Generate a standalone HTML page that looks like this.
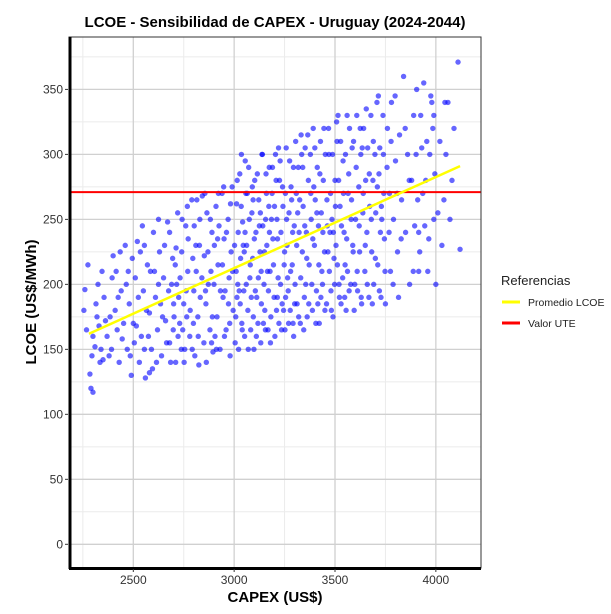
<!DOCTYPE html>
<html><head><meta charset="utf-8">
<style>
html,body{margin:0;padding:0;background:#fff;}
svg{display:block;font-family:"Liberation Sans",Arial,sans-serif;}
</style></head>
<body>
<svg id="chart" width="611" height="614" viewBox="0 0 611 614">
  <text x="275" y="27" text-anchor="middle" font-size="15" font-weight="bold" fill="#000">LCOE - Sensibilidad de CAPEX - Uruguay (2024-2044)</text>
  <g id="grid"></g>
  <g id="points"></g>
  <g id="lines"></g>
  <rect x="69" y="37" width="412" height="531" fill="none" stroke="#333" stroke-width="1"/>
  <line x1="70" y1="37" x2="70" y2="569" stroke="#000" stroke-width="3"/>
  <line x1="69" y1="568.5" x2="481" y2="568.5" stroke="#000" stroke-width="3"/>
  <g id="xticks"></g>
  <g id="yticks"></g>
  <text x="275" y="602" text-anchor="middle" font-size="15" font-weight="bold">CAPEX (US$)</text>
  <text transform="translate(36,302) rotate(-90)" text-anchor="middle" font-size="15" font-weight="bold">LCOE (US$/MWh)</text>
  <g>
    <text x="501" y="285" font-size="13" fill="#222">Referencias</text>
    <g>
      <line x1="502" y1="302" x2="520" y2="302" stroke="#ffff00" stroke-width="3"/>
      <text x="528" y="306" font-size="10.5" fill="#222">Promedio LCOE</text>
    </g>
    <g>
      <line x1="502" y1="323" x2="520" y2="323" stroke="#ff0000" stroke-width="3"/>
      <text x="528" y="327" font-size="10.5" fill="#222">Valor UTE</text>
    </g>
  </g>
</svg>
<script>
const xTickValues=[2500,3000,3500,4000];
const xMinorValues=[2250,2750,3250,3750,4250];
const yTickValues=[0,50,100,150,200,250,300,350];
const yMinorValues=[25,75,125,175,225,275,325,375];
const uteValue=271;
const trendStart=[2280,162];
const trendEnd=[4120,291];
const capex=[2260,2275,2290,2300,2285,2310,2320,2330,2340,2355,2370,2380,2395,2400,2410,2420,2430,2440,2445,2300,2350,2415,2385,2325,
2460,2470,2480,2490,2500,2510,2520,2530,2540,2550,2560,2570,2580,2590,2600,2610,2620,2630,2640,2650,2660,2670,2680,2690,2700,2475,2505,2535,2565,2595,2625,2655,2685,2515,2545,2575,2605,2635,2665,2695,
2710,2715,2720,2730,2740,2750,2755,2760,2770,2780,2790,2800,2805,2810,2820,2830,2840,2850,2855,2860,2870,2880,2890,2895,2900,2910,2915,2920,2930,2940,2945,2950,2960,2970,2975,2980,2990,2995,2725,2765,2795,2825,2865,2885,2905,2925,2955,2985,2745,2815,
3005,3010,3015,3020,3030,3035,3040,3050,3055,3060,3070,3075,3080,3090,3095,3100,3110,3115,3120,3130,3135,3140,3150,3155,3160,3170,3175,3180,3190,3195,3200,3210,3215,3220,3230,3235,3240,3250,3255,3260,3270,3275,3280,3290,3295,3025,3065,3105,3145,3185,3225,3265,3045,3085,3125,3165,3205,3245,3285,3300,
3305,3310,3320,3325,3330,3340,3345,3350,3360,3365,3370,3380,3385,3390,3400,3405,3410,3420,3425,3430,3440,3445,3450,3460,3465,3470,3480,3485,3490,3500,3505,3510,3520,3525,3530,3540,3545,3550,3560,3565,3570,3580,3585,3590,3595,3315,3355,3395,3435,3475,3515,3555,3335,3415,3495,
3605,3610,3620,3625,3630,3640,3650,3655,3660,3670,3680,3685,3690,3700,3710,3715,3720,3730,3740,3745,3750,3760,3770,3775,3780,3790,3800,3810,3820,3830,3840,3850,3860,3870,3880,3890,3895,3635,3725,3815,
3905,3910,3920,3930,3940,3950,3960,3970,3980,3990,4000,4020,4040,4060,4080,4110,4120,3985,3945,4030,
2702,2712,2722,2732,2742,2752,2762,2772,2782,2792,2802,2812,2822,2832,2842,2852,2862,2872,2882,2892,2902,2912,2922,2932,2942,2952,2962,2972,2982,2992,2708,2738,2768,2798,2828,2858,2888,2918,2948,2978,
3002,3008,3012,3018,3022,3028,3032,3038,3042,3048,3052,3058,3062,3068,3072,3078,3082,3088,3092,3098,3102,3108,3112,3118,3122,3128,3132,3138,3142,3148,3152,3158,3162,3168,3172,3178,3182,3188,3192,3198,3202,3208,3212,3218,3222,3228,3232,3238,3242,3248,3252,3258,3262,3268,3272,3278,3282,3288,3292,3298,3014,3054,3094,3134,3174,3214,3254,3294,3036,3156,
3302,3308,3312,3318,3322,3328,3332,3338,3342,3348,3352,3358,3362,3368,3372,3378,3382,3388,3392,3398,3402,3408,3412,3418,3422,3428,3432,3438,3442,3448,3452,3458,3462,3468,3472,3478,3482,3488,3492,3498,3502,3508,3512,3518,3522,3528,3532,3538,3542,3548,3552,3558,3562,3568,3572,3578,3582,3588,3592,3598,
3602,3608,3612,3618,3622,3628,3632,3638,3642,3648,3652,3658,3662,3668,3672,3678,3682,3688,3692,3698,3702,3708,3712,3718,3722,3728,3732,3738,3742,3748,3758,3768,3778,3788,3798,3808,3828,3848,3868,3888,
3902,3915,3925,3935,3955,3965,3975,3995,4010,4050,4070,4090,3915,4045,3990,
2255,2268,2295,2315,2335,2362,2392,2425,2452,2465,2485,2525,2555,2585,2615,2645,2675,2698,2345,2435,2495,2555,2625,2680,2580];
const lcoe=[196,215,120,117,131,152,175,168,150,190,160,145,205,222,180,165,140,195,158,160,142,210,175,200,
230,150,185,130,170,205,233,140,160,195,128,215,178,150,240,190,165,225,145,205,172,248,155,200,185,210,155,225,180,135,200,230,140,168,245,160,210,185,155,220,
140,200,255,170,225,185,150,245,210,160,265,195,145,230,175,250,205,155,270,185,225,165,240,148,200,260,175,215,150,270,190,235,165,250,205,145,275,180,190,175,220,138,255,210,160,245,195,225,165,265,
155,210,280,240,185,260,165,225,295,200,150,250,215,275,175,235,160,285,205,255,185,300,225,165,270,195,240,155,290,215,260,180,235,305,200,165,275,225,190,250,170,295,210,240,160,195,270,195,170,250,280,205,230,190,245,210,300,180,265,185,
310,230,175,265,205,290,165,245,220,315,185,270,200,235,305,170,255,215,285,190,240,320,180,265,225,300,195,250,175,280,230,310,200,260,185,295,240,215,330,270,195,250,305,225,180,255,200,275,210,240,330,180,300,185,220,
290,210,245,320,190,270,230,335,200,285,250,185,310,220,275,345,195,260,300,235,185,320,270,210,340,250,295,225,315,265,360,240,300,200,280,330,245,305,240,190,
350,265,225,305,355,280,210,300,340,250,200,310,265,340,280,371,227,320,245,230,
175,228,160,205,250,140,195,235,180,150,245,210,160,190,268,222,140,200,250,175,230,150,270,195,215,160,240,185,262,210,215,150,260,170,230,195,155,235,275,170,
230,175,262,200,150,285,220,170,248,195,160,270,230,180,290,205,165,255,220,150,280,240,190,170,265,225,155,300,245,200,180,285,230,165,260,210,175,270,235,190,160,280,250,205,170,295,240,185,260,215,165,305,230,195,255,180,275,215,170,245,190,240,265,210,290,190,270,290,300,250,
200,270,185,290,240,170,315,225,260,190,305,240,175,280,215,300,250,180,320,230,265,195,290,245,170,310,255,200,280,225,300,185,245,320,210,270,180,300,240,200,260,325,215,280,190,310,245,205,270,190,300,235,210,285,320,200,265,230,310,200,
250,330,195,275,225,300,185,255,320,210,280,240,305,190,260,330,225,280,200,300,255,340,215,285,305,190,250,330,270,210,290,240,310,200,345,270,235,320,280,210,
300,240,330,270,310,235,345,285,255,300,250,320,210,340,330,
180,165,145,185,140,172,150,190,170,200,145,190,150,210,140,175,195,165,210,225,220,230,250,240,132];

const NS='http://www.w3.org/2000/svg';
function xs(v){return 133.3+(v-2500)*0.2017;}
function ys(v){return 544.3-v*1.2997;}
function mk(tag,attrs,parent){const e=document.createElementNS(NS,tag);for(const k in attrs)e.setAttribute(k,attrs[k]);parent.appendChild(e);return e;}

const grid=document.getElementById('grid');
mk('rect',{x:69,y:37,width:412,height:531,fill:'#fff'},grid);
yMinorValues.forEach(v=>{const y=ys(v);if(y<37)return;
  const l=mk('line',{x1:69,x2:481,y1:y,y2:y,stroke:'#ebebeb','stroke-width':1},grid);
  
  });
xMinorValues.forEach(v=>{const x=xs(v);if(x>481)return;
  const l=mk('line',{x1:x,x2:x,y1:37,y2:568,stroke:'#ebebeb','stroke-width':1},grid);
  
  });
yTickValues.forEach(v=>{const y=ys(v);
  const l=mk('line',{x1:69,x2:481,y1:y,y2:y,stroke:'#d0d0d0','stroke-width':1.3},grid);
  
  });
xTickValues.forEach(v=>{const x=xs(v);
  const l=mk('line',{x1:x,x2:x,y1:37,y2:568,stroke:'#d0d0d0','stroke-width':1.3},grid);
  
  });

const pts=document.getElementById('points');
for(let i=0;i<capex.length;i++){
  const c=mk('circle',{cx:xs(capex[i]),cy:ys(lcoe[i]),r:2.7,fill:'#0000ff','fill-opacity':0.6},pts);
  
  
}

const lines=document.getElementById('lines');
const ute=mk('line',{x1:69,x2:481,y1:ys(uteValue),y2:ys(uteValue),stroke:'#ff0000','stroke-width':2},lines);


const tr=mk('line',{x1:xs(trendStart[0]),y1:ys(trendStart[1]),x2:xs(trendEnd[0]),y2:ys(trendEnd[1]),stroke:'#ffff00','stroke-width':2.5},lines);



const xt=document.getElementById('xticks');
xTickValues.forEach(v=>{const x=xs(v);
  const t=mk('line',{x1:x,x2:x,y1:569,y2:572,stroke:'#333'},xt);
  
  
  const l=mk('text',{x:x,y:584,'text-anchor':'middle','font-size':12,fill:'#333'},xt);
  l.textContent=v;
  
  });
const yt=document.getElementById('yticks');
yTickValues.forEach(v=>{const y=ys(v);
  const t=mk('line',{x1:65,x2:68,y1:y,y2:y,stroke:'#333'},yt);
  
  
  const l=mk('text',{x:63,y:y+4,'text-anchor':'end','font-size':12,fill:'#333'},yt);
  l.textContent=v;
  
  });
</script>
</body></html>
